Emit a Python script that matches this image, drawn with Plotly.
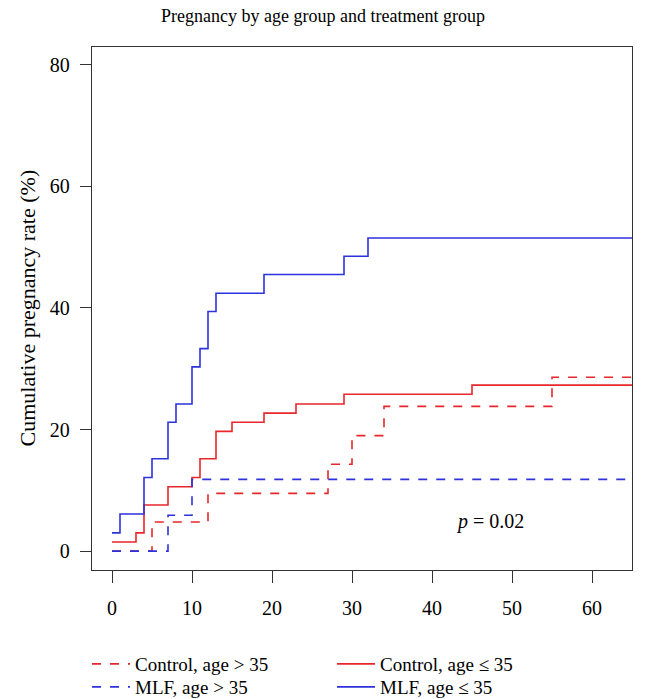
import plotly.graph_objects as go

# Step-curve data (time in months, cumulative pregnancy rate %)
ctrl_old_t = [0, 5, 12, 27, 30, 34, 55, 65]
ctrl_old_y = [0, 4.8, 9.5, 14.3, 19.0, 23.8, 28.6, 28.6]

ctrl_young_t = [0, 3, 4, 7, 10, 11, 13, 15, 19, 23, 29, 45, 65]
ctrl_young_y = [1.5, 3.0, 7.6, 10.6, 12.1, 15.2, 19.7, 21.2, 22.7, 24.2, 25.8, 27.3, 27.3]

mlf_old_t = [0, 7, 10, 65]
mlf_old_y = [0, 5.9, 11.8, 11.8]

mlf_young_t = [0, 1, 4, 5, 7, 8, 10, 11, 12, 13, 19, 29, 32, 65]
mlf_young_y = [3.0, 6.1, 12.1, 15.2, 21.2, 24.2, 30.3, 33.3, 39.4, 42.4, 45.5, 48.5, 51.5, 51.5]

x_ticks = [0, 10, 20, 30, 40, 50, 60]
y_ticks = [0, 20, 40, 60, 80]

RED = "#E8262B"
BLUE = "#2C32DC"
FONT = "Liberation Serif"

fig = go.Figure()
# name, times, values, colour, dash, legend id, legend column x (px), row centre y (px)
series = [
    ("Control, age > 35", ctrl_old_t, ctrl_old_y, RED, "dash", "legend", 87, 664),
    ("Control, age \u2264 35", ctrl_young_t, ctrl_young_y, RED, "solid", "legend2", 332, 664),
    ("MLF, age > 35", mlf_old_t, mlf_old_y, BLUE, "dash", "legend3", 87, 687),
    ("MLF, age \u2264 35", mlf_young_t, mlf_young_y, BLUE, "solid", "legend4", 332, 687),
]
legend_layouts = {}
for name, t, y, c, d, lg, lx, ly in series:
    fig.add_trace(go.Scatter(x=t, y=y, mode="lines", name=name, legend=lg,
                             line=dict(color=c, width=1.6, dash=d, shape="hv")))
    legend_layouts[lg] = dict(
        xref="container", yref="container", x=lx / 646, xanchor="left",
        y=1 - ly / 699, yanchor="middle", itemwidth=38, maxheight=80,
        font=dict(family=FONT, size=19, color="black"), bgcolor="rgba(0,0,0,0)")

fig.add_annotation(x=47.3, y=4.9, xref="x", yref="y", showarrow=False,
                   text="<i>p</i> = 0.02", font=dict(family=FONT, size=20, color="black"))

# y-axis title as a rotated annotation (placed in the left margin)
fig.add_annotation(x=-(92 - 27) / 540, y=0.5, xref="paper", yref="paper",
                   xanchor="center", yanchor="middle", showarrow=False, textangle=-90,
                   text="Cumulative pregnancy rate (%)",
                   font=dict(family=FONT, size=22, color="black"))

axis_common = dict(showgrid=False, zeroline=False, showline=True, linecolor="#333",
                   linewidth=1.3, mirror=True, ticks="outside", tickcolor="#333",
                   tickwidth=1.3, automargin=False,
                   tickfont=dict(family=FONT, size=20, color="black"))

fig.update_xaxes(range=[-2.5, 65], tickvals=x_ticks, ticklen=12,
                 ticklabelstandoff=8, **axis_common)
fig.update_yaxes(range=[-3.1, 82.9], tickvals=y_ticks, ticklen=11,
                 ticklabelstandoff=6, **axis_common)

fig.update_layout(
    width=646, height=699,
    margin=dict(l=92, r=14, t=47, b=129, autoexpand=False),
    paper_bgcolor="white", plot_bgcolor="white",
    title=dict(text="Pregnancy by age group and treatment group", x=0.5, xanchor="center",
               y=1 - 16 / 699, yanchor="middle", font=dict(family=FONT, size=18, color="black")),
    showlegend=True,
    **legend_layouts,
)

fig.write_html("out.html", config={"displayModeBar": False},
               post_script="document.body.style.margin='0';document.body.style.padding='0';")
